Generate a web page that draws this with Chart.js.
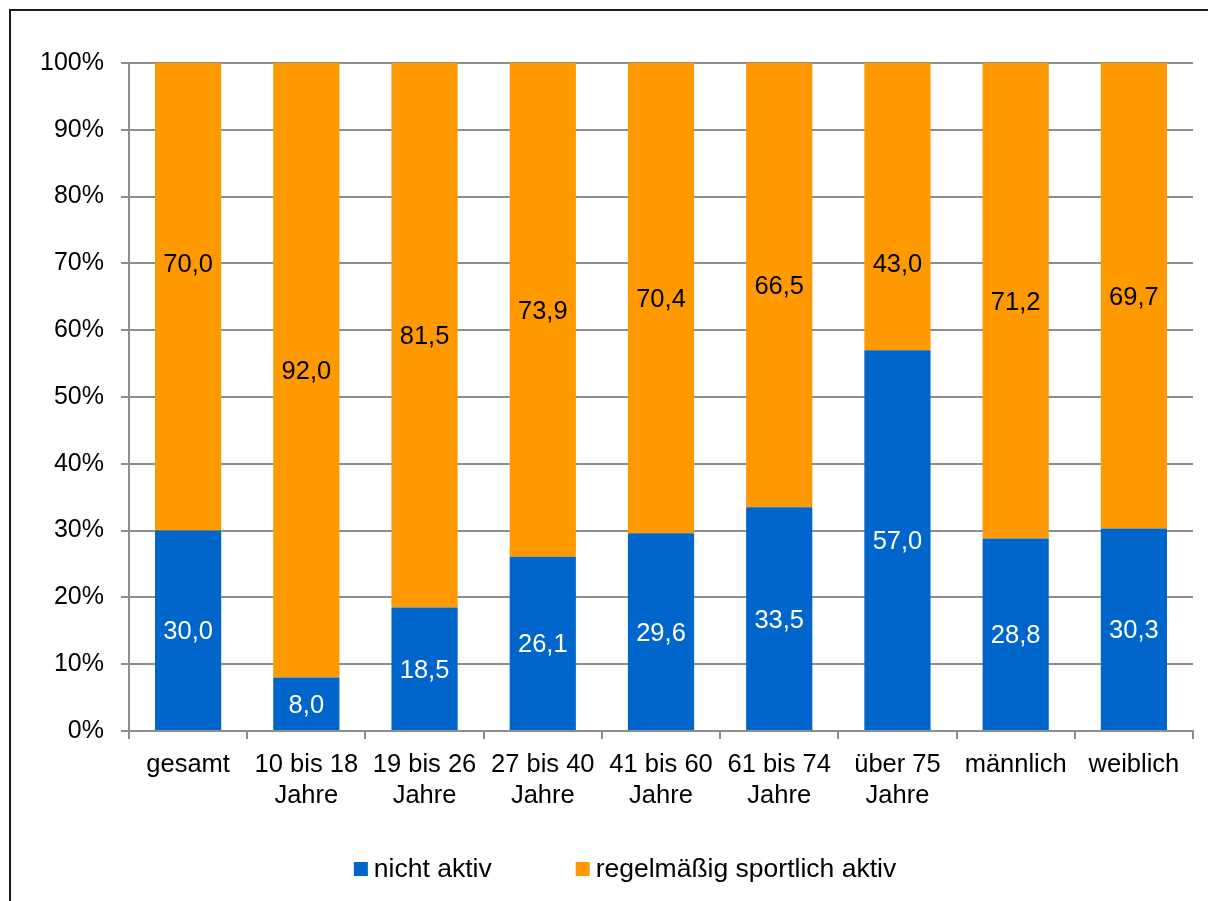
<!DOCTYPE html>
<html>
<head>
<meta charset="utf-8">
<script src="https://cdn.jsdelivr.net/npm/chart.js@4/dist/chart.umd.min.js"></script>
<style>
html, body { margin: 0; padding: 0; background: #fff; }
#frame { position: absolute; left: 9px; top: 9px; width: 1400px; height: 1100px; border: 2px solid #1a1a1a; }
#wrap { position: absolute; left: 0; top: 0; width: 1208px; height: 901px; }
</style>
</head>
<body>
<div id="frame"></div>
<div id="wrap"><canvas id="chart"></canvas></div>
<script>
const categories = [
    ['gesamt'],
    ['10 bis 18', 'Jahre'],
    ['19 bis 26', 'Jahre'],
    ['27 bis 40', 'Jahre'],
    ['41 bis 60', 'Jahre'],
    ['61 bis 74', 'Jahre'],
    ['über 75', 'Jahre'],
    ['männlich'],
    ['weiblich']
];
const seriesNames = ['nicht aktiv', 'regelmäßig sportlich aktiv'];
const nichtAktiv = [30.0, 8.0, 18.5, 26.1, 29.6, 33.5, 57.0, 28.8, 30.3];
const sportlichAktiv = [70.0, 92.0, 81.5, 73.9, 70.4, 66.5, 43.0, 71.2, 69.7];
const yTicks = [0, 10, 20, 30, 40, 50, 60, 70, 80, 90, 100];

// zwei Beschriftungen sind im Original verschoben (Wert auf der y-Achse, null = Mitte)
const aktivLabelAt = [70, null, null, null, null, null, 70, null, null];

const BLUE = '#0066cc';
const ORANGE = '#ff9900';
const GRID = '#8e8e8e';
const FONT = 'Liberation Sans, Arial, sans-serif';
const FONT_SIZE = 25;

Chart.defaults.font.family = FONT;
Chart.defaults.font.size = FONT_SIZE;
Chart.defaults.color = '#000';

const valueLabels = {
    id: 'valueLabels',
    afterDatasetsDraw(chart) {
        const c = chart.ctx;
        const yScale = chart.scales.y;
        c.save();
        c.font = '25.5px ' + FONT;
        c.textAlign = 'center';
        c.textBaseline = 'middle';
        chart.data.datasets.forEach((ds, i) => {
            const meta = chart.getDatasetMeta(i);
            c.fillStyle = i === 0 ? '#fff' : '#000';
            meta.data.forEach((bar, j) => {
                let y = (bar.y + bar.base) / 2;
                if (i === 1 && aktivLabelAt[j] != null) {
                    y = yScale.getPixelForValue(aktivLabelAt[j]);
                }
                c.fillText(ds.data[j].toFixed(1).replace('.', ','), bar.x, y + 2);
            });
        });
        c.restore();
    }
};

const legendRow = {
    id: 'legendRow',
    afterDraw(chart) {
        const c = chart.ctx;
        const box = 14, gap = 6, itemGap = 84;
        const cx = 625, cy = 869;
        c.save();
        c.font = '26.5px ' + FONT;
        c.textBaseline = 'middle';
        c.textAlign = 'left';
        const items = chart.data.datasets.map(ds => ({
            text: ds.label, color: ds.backgroundColor, w: c.measureText(ds.label).width
        }));
        let total = 0;
        items.forEach((it, k) => { total += box + gap + it.w + (k ? itemGap : 0); });
        let x = cx - total / 2;
        items.forEach(it => {
            c.fillStyle = it.color;
            c.fillRect(x, cy - box / 2, box, box);
            c.fillStyle = '#000';
            c.fillText(it.text, x + box + gap, cy + 1);
            x += box + gap + it.w + itemGap;
        });
        c.restore();
    }
};

new Chart(document.getElementById('chart'), {
    type: 'bar',
    data: {
        labels: categories,
        datasets: [
            { label: seriesNames[0], data: nichtAktiv, backgroundColor: BLUE },
            { label: seriesNames[1], data: sportlichAktiv, backgroundColor: ORANGE }
        ]
    },
    options: {
        responsive: true,
        maintainAspectRatio: false,
        devicePixelRatio: 1,
        animation: false,
        layout: { padding: { top: 63, right: 15, left: 0, bottom: 0 } },
        datasets: {
            bar: { barPercentage: 0.56, categoryPercentage: 1.0 }
        },
        plugins: {
            legend: { display: false },
            tooltip: { enabled: false }
        },
        scales: {
            x: {
                stacked: true,
                grid: { drawOnChartArea: false, drawTicks: true, tickLength: 8, color: GRID, lineWidth: 2 },
                border: { color: GRID, width: 2 },
                ticks: { padding: 11, maxRotation: 0, autoSkip: false, font: { size: 25.5, lineHeight: 1.2 } },
                afterFit(scale) { scale.height = 170; }
            },
            y: {
                stacked: true,
                min: 0,
                max: 100,
                afterBuildTicks(scale) { scale.ticks = yTicks.map(v => ({ value: v })); },
                grid: { color: GRID, lineWidth: 2, tickLength: 8 },
                border: { color: GRID, width: 2 },
                ticks: { padding: 17, callback: v => v + '%' },
                afterFit(scale) { scale.width = 129; }
            }
        }
    },
    plugins: [valueLabels, legendRow]
});
</script>
</body>
</html>
